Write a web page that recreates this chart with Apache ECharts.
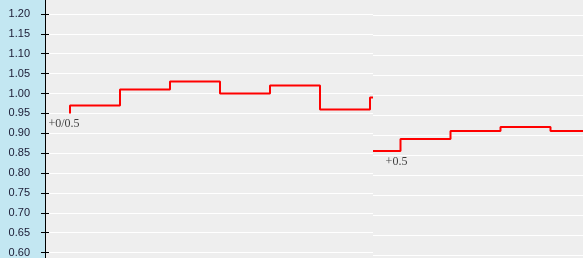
<!DOCTYPE html>
<html>
<head>
<meta charset="utf-8">
<script src="https://cdn.jsdelivr.net/npm/echarts@6/dist/echarts.min.js"></script>
<style>
html,body{margin:0;padding:0;}
#c{width:583px;height:258px;background:linear-gradient(to right,#c3e7f2 0px,#c3e7f2 45px,#eeeeee 45px,#eeeeee 100%);}
</style>
</head>
<body>
<div id="c"></div>
<script>
// y scale and ticks
const yMin = 0.6, yMax = 1.2, yStep = 0.05;
// left segment (step line)
const leftX = [0, 1, 2, 3, 4, 5, 6, 6.06];
const leftY = [0.95, 0.97, 1.01, 1.03, 1.00, 1.02, 0.96, 0.99];
// right segment (step line)
const rightX = [0, 0.55, 1.55, 2.55, 3.55, 4.2];
const rightY = [0.86, 0.89, 0.91, 0.92, 0.91, 0.91];
// annotation labels
const leftLabel = { x: 0, y: 0.95, text: '+0/0.5' };
const rightLabel = { x: 0.55, y: 0.86, text: '+0.5' };

const chart = echarts.init(document.getElementById('c'), null, { renderer: 'canvas' });

const zip = (xs, ys) => xs.map((x, i) => [x, ys[i]]);

const hiddenX = (gi, min, max) => ({
  type: 'value', gridIndex: gi, min: min, max: max, show: false,
  splitLine: { show: false }
});

const labelStyle = {
  fontFamily: 'Liberation Serif', fontSize: 12, color: '#111'
};

chart.setOption({
  backgroundColor: 'transparent',
  animation: false,
  grid: [
    { left: 45, top: 14, width: 328, height: 240 },
    { left: 373, top: 15, width: 210, height: 240 }
  ],
  xAxis: [hiddenX(0, -0.5, 6.06), hiddenX(1, 0, 4.2)],
  yAxis: [
    {
      type: 'value', gridIndex: 0, position: 'left', min: yMin, max: yMax, interval: yStep,
      axisLine: { show: true, onZero: false, lineStyle: { color: '#000', width: 1 } },
      axisTick: { show: true, length: 4, lineStyle: { color: '#000' } },
      axisLabel: {
        margin: 15, fontFamily: 'Liberation Sans', fontSize: 11, color: '#1a1a33',
        formatter: v => v.toFixed(2)
      },
      splitLine: { show: true, lineStyle: { color: '#ffffff', width: 1 } }
    },
    {
      type: 'value', gridIndex: 0, position: 'left', offset: 0, min: yMin, max: yMax, interval: yStep,
      axisLine: { show: false, onZero: false },
      axisTick: { show: true, inside: true, length: 4, lineStyle: { color: '#000' } },
      axisLabel: { show: false },
      splitLine: { show: false }
    },
    {
      type: 'value', gridIndex: 1, position: 'left', min: yMin, max: yMax, interval: yStep,
      axisLine: { show: false, onZero: false }, axisTick: { show: false }, axisLabel: { show: false },
      splitLine: { show: true, lineStyle: { color: '#ffffff', width: 1 } }
    }
  ],
  graphic: [
    { type: 'line', z: 100, shape: { x1: 45.5, y1: 0, x2: 45.5, y2: 258 }, style: { stroke: '#000', lineWidth: 1 } }
  ],
  series: [
    {
      type: 'line', xAxisIndex: 0, yAxisIndex: 0, step: 'start',
      data: zip(leftX, leftY), showSymbol: false, symbol: 'none',
      lineStyle: { color: '#ff0000', width: 2 }, itemStyle: { color: '#ff0000' }
    },
    {
      type: 'line', xAxisIndex: 1, yAxisIndex: 2, step: 'end',
      data: zip(rightX, rightY), showSymbol: false, symbol: 'none',
      lineStyle: { color: '#ff0000', width: 2 }, itemStyle: { color: '#ff0000' }
    },
    {
      type: 'scatter', xAxisIndex: 0, yAxisIndex: 0, symbolSize: 1,
      itemStyle: { color: 'transparent' }, silent: true,
      data: [[leftLabel.x, leftLabel.y]],
      label: Object.assign({ show: true, position: 'bottom', distance: 4, offset: [-6, 0], formatter: leftLabel.text }, labelStyle)
    },
    {
      type: 'scatter', xAxisIndex: 1, yAxisIndex: 2, symbolSize: 1,
      itemStyle: { color: 'transparent' }, silent: true,
      data: [[rightLabel.x, rightLabel.y]],
      label: Object.assign({ show: true, position: 'bottom', distance: 4, offset: [-4, 0], formatter: rightLabel.text }, labelStyle)
    }
  ]
});
</script>
</body>
</html>
